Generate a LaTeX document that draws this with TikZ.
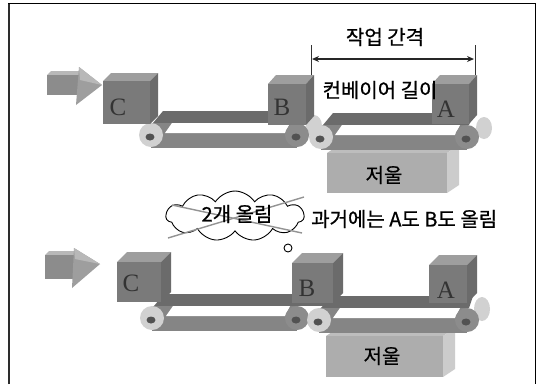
\documentclass[tikz,border=0pt]{standalone}
\usepackage{fontspec}
\newfontfamily\kofont[FakeBold=0.7]{Noto Sans CJK KR}
\newfontfamily\letterfont{Liberation Serif}
\usetikzlibrary{shapes.symbols,arrows.meta}

\definecolor{boxfront}{gray}{0.48}
\definecolor{boxtop}{gray}{0.62}
\definecolor{boxside}{gray}{0.42}
\definecolor{belttop}{gray}{0.42}
\definecolor{beltlow}{gray}{0.52}
\definecolor{rollerlight}{gray}{0.82}
\definecolor{rollerdark}{gray}{0.55}
\definecolor{hub}{gray}{0.32}
\definecolor{scalefront}{gray}{0.68}
\definecolor{scaleside}{gray}{0.80}
\definecolor{scaletop}{gray}{0.74}
\definecolor{arrowfront}{gray}{0.55}
\definecolor{arrowtop}{gray}{0.72}
\definecolor{arrowhead}{gray}{0.62}

% cube: front top-left x, y, width, height, depth dx, depth dy
\newcommand\drawcube[6]{%
  \fill[boxtop] (#1,#2) -- ++(#5,-#6) -- ++(#3,0) -- ++(-#5,#6) -- cycle;
  \fill[boxside] (#1+#3,#2) -- ++(#5,-#6) -- ++(0,#4) -- ++(-#5,#6) -- cycle;
  \fill[boxfront] (#1,#2) rectangle ++(#3,#4);
}
% weighing box, same arguments
\newcommand\drawscale[6]{%
  \fill[scaletop] (#1,#2) -- ++(#5,-#6) -- ++(#3,0) -- ++(-#5,#6) -- cycle;
  \fill[scaleside] (#1+#3,#2) -- ++(#5,-#6) -- ++(0,#4) -- ++(-#5,#6) -- cycle;
  \fill[scalefront] (#1,#2) rectangle ++(#3,#4);
}
% roller seen end-on: x, y, colour
\newcommand\roller[3]{%
  \fill[#3] (#1,#2) circle[radius=12pt];
  \fill[hub] (#1-1,#2+2) ellipse[x radius=4.5pt, y radius=3.5pt];
}
% belt conveyor: left roller x, right roller x, top of belt y
\newcommand\conveyor[3]{%
  \fill[belttop] (#1+2,#3+12) -- (#1+12,#3) -- (#2+6,#3) -- (#2+2,#3+12) -- cycle;
  \fill[beltlow] (#1,#3+12) rectangle (#2,#3+37);
  \fill[white] (#1+14,#3+22) -- (#1+21,#3+12) -- (#2-7,#3+12) -- (#2-12,#3+22) -- cycle;
  \roller{#1}{#3+24}{rollerlight}
  \roller{#2}{#3+24}{rollerdark}
}

\tikzset{
  kolabel/.style={font=\kofont\fontsize{20}{22}\selectfont, inner sep=0pt},
  boxletter/.style={font=\letterfont\fontsize{25}{26}\selectfont, text=black!80, inner sep=0pt},
  crossline/.style={gray!85, line width=1.4pt},
}

\begin{document}
\begin{tikzpicture}[x=1pt,y=-1pt]
\useasboundingbox (0,0) rectangle (538,384);
\fill[white] (0,0) rectangle (538,384);

% frame
\draw[line width=1.4pt] (8.5,384) -- (8.5,3.5) -- (535.5,3.5) -- (535.5,384);
\draw[gray!35!black, line width=2.2pt] (8.8,4) -- (8.8,384);

% ---------- upper line ----------
% feed arrow
\fill[arrowtop] (47,75) -- (51,71) -- (81,71) -- (80,75) -- cycle;
\fill[arrowfront] (47,75) rectangle (80,95);
\fill[arrowhead] (79,67) -- (102,85) -- (76,105) -- cycle;
\fill[arrowtop] (79,67) -- (102,85) -- (80,80) -- cycle;

\drawscale{327}{153}{120}{40}{12}{8}
\fill[rollerlight] (314,126) ellipse[x radius=8pt, y radius=11pt];
\fill[rollerlight] (484,128) ellipse[x radius=8pt, y radius=11pt];
\conveyor{151}{297}{111}
\conveyor{321}{467}{113}

\drawcube{103}{81}{47}{43}{8}{8}
\drawcube{268}{84}{38}{41}{8}{9}
\drawcube{432}{84}{37}{40}{8}{9}

\node[boxletter] (c1) at (118,107) {C};
\node[boxletter] (b1) at (282,107) {B};
\node[boxletter] (a1) at (446,109) {A};
\node[kolabel] (w1) at (384,175) {저울};

% pitch dimension
\coordinate (tl) at (311,45);
\coordinate (tlb) at (311,75);
\coordinate (tr) at (475,45);
\coordinate (trb) at (475,75);
\coordinate (dl) at (312,59);
\coordinate (dr) at (474,59);
\draw[gray!40!black, line width=0.6pt] (tl) -- (tlb);
\draw[gray!40!black, line width=0.6pt] (tr) -- (trb);
\draw[gray!30!black, line width=1.2pt, {Stealth[length=7pt,width=6pt]}-{Stealth[length=7pt,width=6pt]}] (dl) -- (dr);
\node[kolabel] (pitch) at (385,37) {작업 간격};
\node[kolabel] (length) at (380,90) {컨베이어 길이};

% ---------- lower line ----------
\fill[arrowtop] (45,255) -- (49,251) -- (75,251) -- (74,255) -- cycle;
\fill[arrowfront] (45,255) rectangle (74,279);
\fill[arrowhead] (74,248) -- (100,264) -- (72,288) -- cycle;
\fill[arrowtop] (74,248) -- (100,264) -- (75,259) -- cycle;

\drawscale{326}{336}{117}{41}{12}{8}
\fill[rollerlight] (482,309) ellipse[x radius=8pt, y radius=12pt];
\conveyor{152}{297}{294}
\conveyor{319}{467}{296}
\fill[belttop] (295,294) rectangle (330,306);

\drawcube{117}{262}{44}{40}{10}{10}
\drawcube{292}{263}{41}{40}{10}{10}
\drawcube{429}{265}{38}{38}{10}{10}

\node[boxletter] (c2) at (131,283) {C};
\node[boxletter] (b2) at (307,288) {B};
\node[boxletter] (a2) at (446,290) {A};
\node[kolabel] (w2) at (382,356) {저울};

% thought cloud, struck out
\node[cloud, draw, fill=white, line width=0.9pt, cloud puffs=11, cloud puff arc=115,
      aspect=2.7, minimum width=138pt, minimum height=50pt, inner sep=0pt] (cl) at (235,216) {};
\node[draw, fill=white, circle, line width=0.9pt, minimum size=8pt, inner sep=0pt] (dot) at (288,248) {};
\coordinate (x1a) at (172,205);
\coordinate (x1b) at (302,233);
\coordinate (x2a) at (168,238);
\coordinate (x2b) at (304,197);
\draw[crossline] (x1a) -- (x1b);
\draw[crossline] (x2a) -- (x2b);
\node[kolabel] (two) at (237,214) {2개 올림};
\node[kolabel, anchor=west] (past) at (311,219) {과거에는 A도 B도 올림};
\end{tikzpicture}
\end{document}
